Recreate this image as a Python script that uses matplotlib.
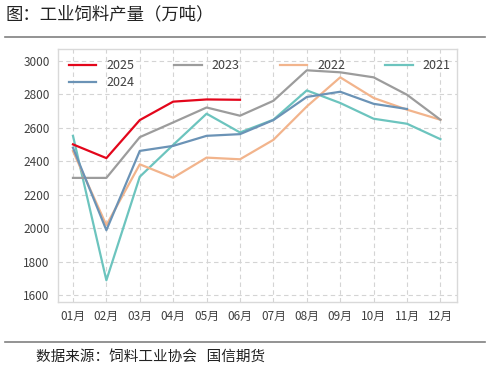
import matplotlib.pyplot as plt
from matplotlib.lines import Line2D

plt.rcParams['font.family'] = ['Noto Sans CJK SC', 'DejaVu Sans']

# data (万吨)
months = ['01月', '02月', '03月', '04月', '05月', '06月',
          '07月', '08月', '09月', '10月', '11月', '12月']
y2025 = [2500, 2418, 2645, 2755, 2768, 2766]
y2024 = [2480, 1988, 2461, 2491, 2551, 2561, 2645, 2783, 2814, 2742, 2711]
y2023 = [2300, 2300, 2543, 2631, 2720, 2671, 2760, 2942, 2930, 2900, 2796, 2647]
y2022 = [2460, 2018, 2381, 2301, 2421, 2411, 2527, 2726, 2900, 2777, 2707, 2647]
y2021 = [2551, 1689, 2307, 2497, 2683, 2571, 2647, 2822, 2747, 2653, 2623, 2531]

series = [
    ('2025', y2025, '#E3061B'),
    ('2024', y2024, '#6B93B6'),
    ('2023', y2023, '#9C9C9C'),
    ('2022', y2022, '#F2B48C'),
    ('2021', y2021, '#6CC4BE'),
]

fig = plt.figure(figsize=(4.91, 3.70), dpi=100)
ax = fig.add_axes([0.118, 0.184, 0.813, 0.684])

# draw older years first so 2025 sits on top
for name, vals, color in reversed(series):
    ax.plot(range(len(vals)), vals, color=color, lw=1.6, label=name)

ax.set_xlim(-0.45, 11.5)
ax.set_ylim(1560, 3070)
ax.set_xticks(range(12))
ax.set_xticklabels(months)
ax.set_yticks(range(1600, 3001, 200))
ax.tick_params(length=0, labelsize=8.5, colors='#404040', pad=6)
ax.grid(True, color='#D4D4D4', ls=(0, (4, 3)), lw=0.8)
for sp in ax.spines.values():
    sp.set_color('#D9D9D9')
    sp.set_linewidth(1.0)

handles = {n: Line2D([], [], color=c, lw=1.6) for n, _, c in series}
order = ['2025', '2024', '2023', '2022', '2021']
ax.legend([handles[n] for n in order], order, ncol=4, loc='upper left',
          bbox_to_anchor=(0.0, 1.0), frameon=False, fontsize=9,
          handlelength=2.2, handletextpad=0.8, columnspacing=3.2,
          labelspacing=0.3, borderaxespad=0.45,
          labelcolor='#404040')

# title and source
fig.text(0.012, 0.962, '图：工业饲料产量（万吨）', fontsize=12.5,
         color='#222222', va='center', ha='left')
fig.add_artist(Line2D([0.01, 0.988], [0.9, 0.9], color='#808080', lw=1.2))
fig.add_artist(Line2D([0.01, 0.988], [0.076, 0.076], color='#808080', lw=1.2))
fig.text(0.073, 0.035, '数据来源：饲料工业协会   国信期货', fontsize=10.5,
         color='#222222', va='center', ha='left')

fig.savefig('out.png', dpi=100)
